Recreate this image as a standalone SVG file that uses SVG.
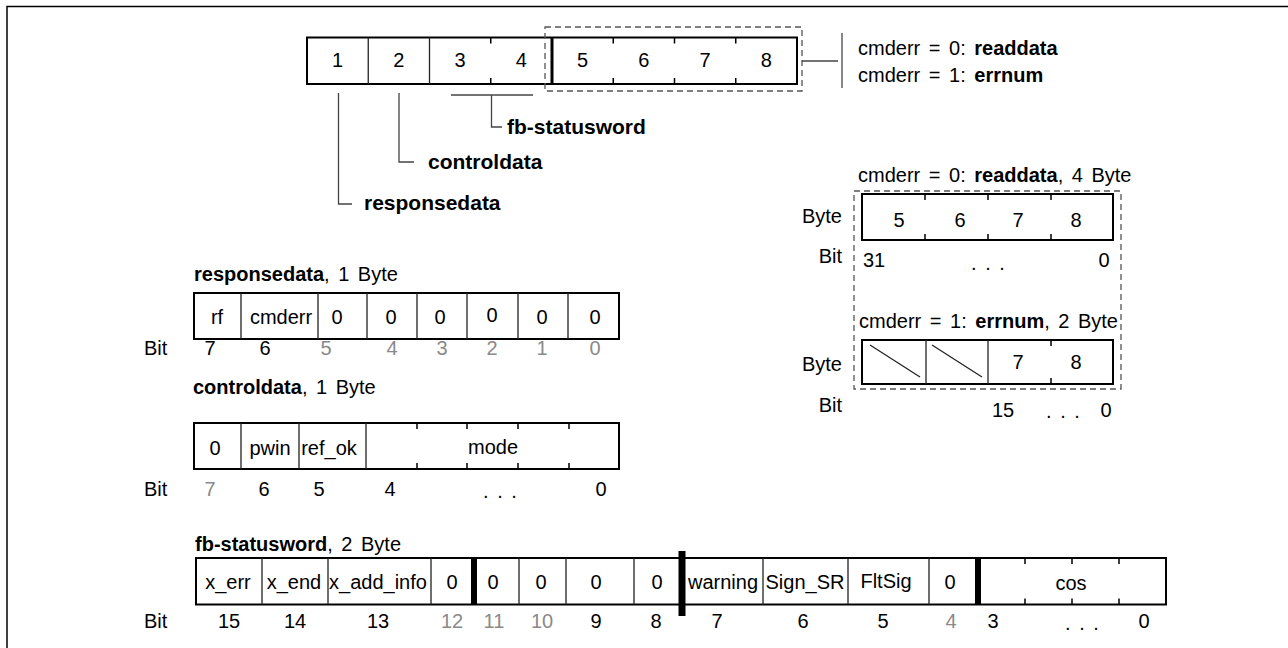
<svg xmlns="http://www.w3.org/2000/svg" width="1288" height="648" viewBox="0 0 1288 648">
<style>
text{font-family:"Liberation Sans",Arial,sans-serif;font-size:20px;fill:#000;word-spacing:3px}
.b{font-weight:bold}
.h{font-weight:bold;font-size:21px}
.c{text-anchor:middle}
.e{text-anchor:end}
.g{fill:#8a8a8a}
.box{fill:#fff;stroke:#000;stroke-width:2}
.dv{stroke:#222;stroke-width:1.3}
.tk{stroke:#000;stroke-width:1.5}
.th{fill:#000}
.dash{fill:none;stroke:#555;stroke-width:1.3;stroke-dasharray:6 4}
.ln{fill:none;stroke:#444;stroke-width:1.3}
</style>
<path d="M7,648 V6.5 H1288" fill="none" stroke="#000" stroke-width="1.5"/>

<g id="frame-bytes">
<rect class="box" x="307" y="37.5" width="490" height="46.5" stroke-width="2.5"/>
<line class="dv" x1="368.25" y1="37.5" x2="368.25" y2="84"/>
<line class="dv" x1="429.5" y1="37.5" x2="429.5" y2="84"/>
<rect class="th" x="550.5" y="37.5" width="3" height="46.5"/>
<path class="tk" d="M490.75,37.5v6M490.75,84v-6M613.25,37.5v6M613.25,84v-6M674.5,37.5v6M674.5,84v-6M735.75,37.5v6M735.75,84v-6"/>
<text class="c" x="337.6" y="67">1</text>
<text class="c" x="398.9" y="67">2</text>
<text class="c" x="460.1" y="67">3</text>
<text class="c" x="521.4" y="67">4</text>
<text class="c" x="582.6" y="67">5</text>
<text class="c" x="643.9" y="67">6</text>
<text class="c" x="705.1" y="67">7</text>
<text class="c" x="766.4" y="67">8</text>
<rect class="dash" x="545" y="27" width="257" height="64"/>
</g>

<g id="connectors">
<line class="ln" x1="802" y1="61" x2="838" y2="61"/>
<line class="ln" x1="842" y1="33" x2="842" y2="88"/>
<line class="ln" x1="451" y1="95" x2="533" y2="95"/>
<path class="ln" d="M491.5,95V127H502"/>
<path class="ln" d="M399,93V162H414"/>
<path class="ln" d="M338.5,93V204H352"/>
</g>

<g id="labels-top">
<text x="858" y="55">cmderr = 0: <tspan class="b">readdata</tspan></text>
<text x="858" y="82">cmderr = 1: <tspan class="b">errnum</tspan></text>
<text class="h" x="507" y="134">fb-statusword</text>
<text class="h" x="428" y="169">controldata</text>
<text class="h" x="364" y="210">responsedata</text>
</g>

<g id="readdata">
<text x="858" y="182">cmderr = 0: <tspan class="b">readdata</tspan>, 4 Byte</text>
<rect class="box" x="862" y="194" width="251" height="46"/>
<path class="tk" d="M925,194v6M925,240v-6M988,194v6M988,240v-6M1051,194v6M1051,240v-6"/>
<text class="c" x="899" y="227">5</text>
<text class="c" x="960" y="227">6</text>
<text class="c" x="1018" y="227">7</text>
<text class="c" x="1076" y="227">8</text>
<text class="e" x="842" y="223">Byte</text>
<text class="e" x="842" y="263">Bit</text>
<text x="863" y="267">31</text>
<text class="c" x="988" y="270">. . .</text>
<text class="c" x="1104" y="267">0</text>
</g>

<g id="errnum">
<text x="859" y="328">cmderr = 1: <tspan class="b">errnum</tspan>, 2 Byte</text>
<rect class="box" x="862" y="340" width="251" height="44"/>
<line class="dv" x1="926" y1="340" x2="926" y2="384" stroke-width="1.8"/>
<line class="dv" x1="988" y1="340" x2="988" y2="384" stroke-width="1.8"/>
<path class="tk" d="M1051,340v6M1051,384v-6"/>
<line class="dv" x1="870" y1="345" x2="920" y2="377"/>
<line class="dv" x1="932" y1="345" x2="982" y2="377"/>
<text class="c" x="1018" y="369">7</text>
<text class="c" x="1076" y="369">8</text>
<text class="e" x="842" y="371">Byte</text>
<text class="e" x="842" y="412">Bit</text>
<text class="c" x="1003" y="417">15</text>
<text class="c" x="1063" y="418">. . .</text>
<text class="c" x="1106" y="417">0</text>
<rect class="dash" x="854" y="191" width="267" height="198"/>
</g>

<g id="responsedata">
<text x="194" y="281"><tspan class="b">responsedata</tspan>, 1 Byte</text>
<rect class="box" x="194" y="293" width="425" height="46" stroke-width="1.6"/>
<path class="dv" d="M241,293V339M318,293V339M367,293V339M417,293V339M467,293V339M518,293V339M568,293V339"/>
<text class="c" x="217" y="324">rf</text>
<text class="c" x="281" y="324">cmderr</text>
<text class="c" x="337" y="324">0</text>
<text class="c" x="391" y="324">0</text>
<text class="c" x="440" y="324">0</text>
<text class="c" x="492" y="322">0</text>
<text class="c" x="542" y="324">0</text>
<text class="c" x="595" y="324">0</text>
<text x="144" y="355">Bit</text>
<text class="c" x="210" y="355">7</text>
<text class="c" x="265" y="355">6</text>
<text class="c g" x="326" y="355">5</text>
<text class="c g" x="392" y="355">4</text>
<text class="c g" x="442" y="355">3</text>
<text class="c g" x="492" y="355">2</text>
<text class="c g" x="542" y="355">1</text>
<text class="c g" x="595" y="355">0</text>
</g>

<g id="controldata">
<text x="193" y="394"><tspan class="b">controldata</tspan>, 1 Byte</text>
<rect class="box" x="194" y="423" width="425" height="46" stroke-width="1.6"/>
<path class="dv" d="M241,423V469M299,423V469M366,423V469"/>
<path class="tk" d="M417,423v6M417,469v-6M467,423v6M467,469v-6M518,423v6M518,469v-6M569,423v6M569,469v-6"/>
<text class="c" x="215" y="455">0</text>
<text class="c" x="270" y="455">pwin</text>
<text class="c" x="329" y="455">ref_ok</text>
<text class="c" x="493" y="454">mode</text>
<text x="144" y="496">Bit</text>
<text class="c g" x="210" y="496">7</text>
<text class="c" x="264" y="496">6</text>
<text class="c" x="319" y="496">5</text>
<text class="c" x="390" y="496">4</text>
<text class="c" x="500" y="498">. . .</text>
<text class="c" x="601" y="496">0</text>
</g>

<g id="fb-statusword">
<text x="195" y="551"><tspan class="b">fb-statusword</tspan>, 2 Byte</text>
<rect class="box" x="196" y="558" width="970" height="46.5" stroke-width="1.6"/>
<path class="dv" d="M262,558V604.5M328,558V604.5M431,558V604.5M519,558V604.5M566,558V604.5M634,558V604.5M763,558V604.5M848,558V604.5M929,558V604.5"/>
<rect class="th" x="471" y="558" width="6" height="46.5"/>
<rect class="th" x="678.5" y="551" width="7" height="65"/>
<rect class="th" x="975" y="558" width="6" height="46.5"/>
<path class="tk" d="M1025,558v6M1025,604.5v-6M1072,558v6M1072,604.5v-6M1119,558v6M1119,604.5v-6"/>
<text class="c" x="228" y="589">x_err</text>
<text class="c" x="294" y="589">x_end</text>
<text class="c" x="378" y="589">x_add_info</text>
<text class="c" x="452" y="589">0</text>
<text class="c" x="493" y="589">0</text>
<text class="c" x="541" y="589">0</text>
<text class="c" x="596" y="589">0</text>
<text class="c" x="657" y="589">0</text>
<text class="c" x="723" y="589">warning</text>
<text class="c" x="805" y="589">Sign_SR</text>
<text class="c" x="886" y="588">FltSig</text>
<text class="c" x="950" y="589">0</text>
<text class="c" x="1071" y="590">cos</text>
<text x="144" y="628">Bit</text>
<text class="c" x="229" y="628">15</text>
<text class="c" x="295" y="628">14</text>
<text class="c" x="378" y="628">13</text>
<text class="c g" x="452" y="628">12</text>
<text class="c g" x="494" y="628">11</text>
<text class="c g" x="542" y="628">10</text>
<text class="c" x="596" y="628">9</text>
<text class="c" x="656" y="628">8</text>
<text class="c" x="717" y="628">7</text>
<text class="c" x="803" y="628">6</text>
<text class="c" x="883" y="628">5</text>
<text class="c g" x="951" y="628">4</text>
<text class="c" x="993" y="628">3</text>
<text class="c" x="1082" y="630">. . .</text>
<text class="c" x="1144" y="628">0</text>
</g>
</svg>
